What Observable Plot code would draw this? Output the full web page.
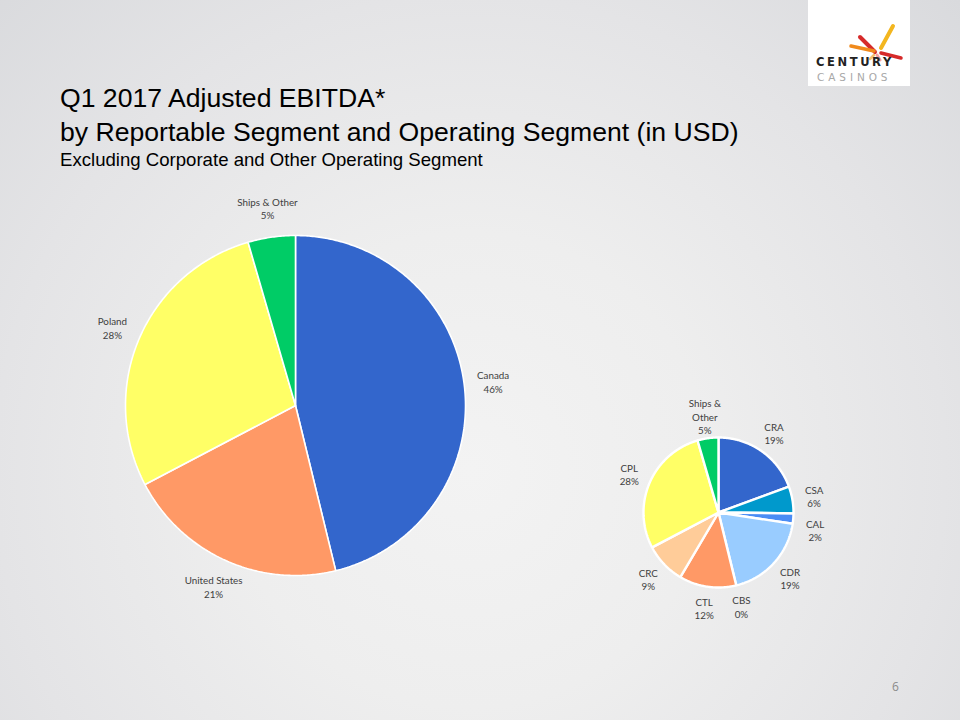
<!DOCTYPE html>
<html>
<head>
<meta charset="utf-8">
<script src="https://cdn.jsdelivr.net/npm/d3@7"></script>
<script src="https://cdn.jsdelivr.net/npm/@observablehq/plot@0.6"></script>
<style>
  html, body { margin: 0; padding: 0; }
  #page {
    position: relative; width: 960px; height: 720px; overflow: hidden;
    background: radial-gradient(circle farthest-corner at 470px 470px, #f3f3f3 0%, #eeeeee 35%, #e4e4e6 70%, #d9dadd 100%);
    font-family: "Liberation Sans", Arial, sans-serif;
  }
  #header { position: relative; height: 180px; }
  #title { position: absolute; left: 60px; top: 81px; color: #000; white-space: nowrap; }
  #title .t1 { font-size: 26.6px; line-height: 34px; }
  #title .t2 { font-size: 18.6px; line-height: 22px; }
  #logo { position: absolute; left: 808px; top: 0; width: 102px; height: 86px; background: #fff; }
  #logo .c1 { position: absolute; left: 8px; top: 57px; line-height: 1; font-family: "DejaVu Sans", sans-serif; font-weight: bold; font-size: 11.5px; letter-spacing: 2.6px; color: #222; }
  #logo .c2 { position: absolute; left: 9px; top: 72px; line-height: 1; font-family: "DejaVu Sans", sans-serif; font-size: 10.5px; letter-spacing: 3.9px; color: #a8a8a8; }
  #pagenum { position: absolute; left: 892px; top: 678px; font-size: 12px; color: #8a8a8a; font-family: "Open Sans", sans-serif; }
  #chart { position: absolute; left: 0; top: 180px; }
</style>
</head>
<body>
<div id="page">
  <div id="header">
    <div id="title">
      <div class="t1">Q1 2017 Adjusted EBITDA*</div>
      <div class="t1">by Reportable Segment and Operating Segment (in USD)</div>
      <div class="t2">Excluding Corporate and Other Operating Segment</div>
    </div>
    <div id="logo">
      <svg width="102" height="66" style="position:absolute;left:0;top:0">
        <g stroke-linecap="round">
          <line x1="52" y1="37" x2="67" y2="52" stroke="#d62a2a" stroke-width="4"/>
          <line x1="85" y1="26" x2="73" y2="48" stroke="#f3b61f" stroke-width="4"/>
          <line x1="43" y1="46" x2="66" y2="51" stroke="#f08a1c" stroke-width="3.5"/>
          <line x1="73" y1="53" x2="93" y2="58" stroke="#d62a2a" stroke-width="3.5"/>
          <line x1="69" y1="55" x2="72" y2="60" stroke="#f4a0a0" stroke-width="3"/>
          <line x1="66" y1="55" x2="62" y2="59" stroke="#f4c070" stroke-width="2.5"/>
        </g>
      </svg>
      <div class="c1">CENTURY</div>
      <div class="c2">CASINOS</div>
    </div>
  </div>
  <div id="chart"></div>
  <div id="pagenum">6</div>
</div>
<script>
// ---- Data (shares in %; labels show rounded values) ----
const regions = ["Canada", "United States", "Poland", "Ships & Other"];
const regionShares = [46.2, 21.1, 28.2, 4.5];
const regionColors = ["#3366CC", "#FF9966", "#FFFF66", "#00CC66"];

const segments = ["CRA", "CSA", "CAL", "CDR", "CBS", "CTL", "CRC", "CPL", "Ships &\nOther"];
const segmentShares = [19.4, 5.8, 2.2, 18.8, 0, 12.3, 8.8, 28.2, 4.5];
const segmentColors = ["#3366CC", "#0099CC", "#4A8CF5", "#99CCFF", "#7F7F7F", "#FF9966", "#FFCC99", "#FFFF66", "#00CC66"];

// ---- Geometry built from the data ----
function pieData(names, shares, colors, id, cx, cy, r, labelR) {
  const arcs = d3.pie().sort(null).value(d => d)(shares);
  const wedges = [];
  const labels = [];
  arcs.forEach((a, i) => {
    const mid = (a.startAngle + a.endAngle) / 2;
    labels.push({
      x: cx + labelR * Math.sin(mid),
      y: cy - labelR * Math.cos(mid),
      text: names[i] + "\n" + Math.round(shares[i]) + "%"
    });
    if (shares[i] <= 0) return;
    const key = id + i;
    wedges.push({key, x: cx, y: cy, color: colors[i]});
    const n = Math.max(2, Math.ceil((a.endAngle - a.startAngle) / 0.01));
    for (let k = 0; k <= n; k++) {
      const t = a.startAngle + (a.endAngle - a.startAngle) * k / n;
      wedges.push({key, x: cx + r * Math.sin(t), y: cy - r * Math.cos(t), color: colors[i]});
    }
    wedges.push({key, x: cx, y: cy, color: colors[i]});
  });
  // simple collision avoidance: push the lower label down when two labels overlap
  for (let i = 1; i < labels.length; i++) {
    const a = labels[i - 1], b = labels[i];
    if (Math.abs(a.x - b.x) < 30 && Math.abs(a.y - b.y) < 34) {
      if (b.y >= a.y) b.y = a.y + 34; else a.y = b.y + 34;
    }
  }
  return {wedges, labels};
}

const big = pieData(regions, regionShares, regionColors, "r", 295, 225, 170, 199);
const small = pieData(segments, segmentShares, segmentColors, "s", 718, 332, 75, 97);

const labelFont = "Lato, 'Open Sans', sans-serif";

const chart = Plot.plot({
  width: 960,
  height: 540,
  margin: 0,
  x: {domain: [0, 960], range: [0, 960], axis: null},
  y: {domain: [0, 540], range: [0, 540], axis: null},
  color: {type: "identity"},
  style: {background: "transparent", overflow: "visible"},
  marks: [
    Plot.line(big.wedges, {x: "x", y: "y", z: "key", fill: "color", stroke: "white", strokeWidth: 1.6, strokeLinejoin: "miter", curve: "linear"}),
    Plot.line(small.wedges, {x: "x", y: "y", z: "key", fill: "color", stroke: "white", strokeWidth: 2.4, strokeLinejoin: "miter", curve: "linear"}),
    Plot.text(big.labels, {x: "x", y: "y", text: "text", fontSize: 9.8, lineHeight: 1.36, fill: "#404040", fontFamily: labelFont}),
    Plot.text(small.labels, {x: "x", y: "y", text: "text", fontSize: 9.8, lineHeight: 1.36, fill: "#404040", fontFamily: labelFont})
  ]
});
document.getElementById("chart").appendChild(chart);
</script>
</body>
</html>
